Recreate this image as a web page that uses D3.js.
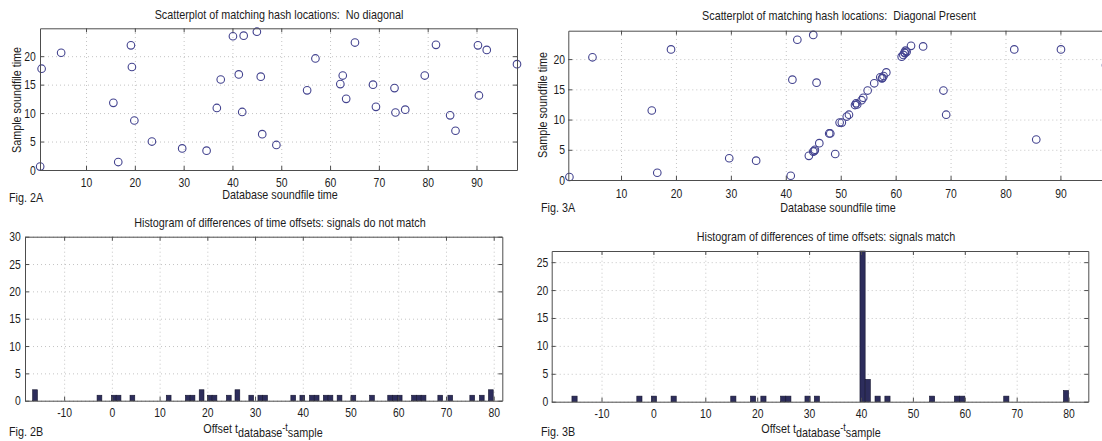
<!DOCTYPE html>
<html>
<head>
<meta charset="utf-8">
<script src="https://cdn.jsdelivr.net/npm/d3@7"></script>
<style>
  body { margin: 0; background: #fff; }
  svg text { font-family: "Liberation Sans", Arial, sans-serif; font-size: 13px; fill: #1c1c1c; white-space: pre; }
  .axis text { font-size: 12.5px; }
  .grid line { stroke: #c4c4c4; stroke-dasharray: 1,3; }
  .grid path { display: none; }
  .axis line, .axis path { stroke: #4d4d4d; }
</style>
</head>
<body>
<div id="container"></div>
<script>
// four panels: two scatterplots of matching hash locations and their offset histograms

// fig 2A - no diagonal (database time, sample time)
var noDiagX = [0.6, 0.9, 4.9, 15.6, 16.6, 19.2, 19.4, 19.9, 23.5, 29.7, 34.7, 36.8, 37.6, 40.1, 42.3,
               45.0, 41.3, 42.0, 45.8, 46.1, 49.0, 55.3, 57.0, 65.1, 62.6, 62.1, 63.3, 68.8, 69.4, 73.2,
               73.4, 75.4, 79.4, 81.7, 84.6, 85.7, 90.3, 90.5, 92.1, 98.3];
var noDiagY = [0.6, 17.8, 20.6, 11.8, 1.4, 21.9, 18.1, 8.7, 5.0, 3.8, 3.4, 10.9, 15.9, 23.5, 23.6,
               24.3, 16.8, 10.2, 16.4, 6.3, 4.4, 14.0, 19.6, 22.4, 16.6, 15.1, 12.5, 15.0, 11.1, 14.4,
               10.1, 10.6, 16.6, 22.0, 9.6, 6.9, 21.9, 13.1, 21.1, 18.6];

// fig 3A - diagonal present
var diagX = [0.6, 4.8, 15.6, 16.6, 19.1, 29.7, 34.6, 41.2, 42.1, 45.0, 45.6, 49.0, 65.0, 68.7, 69.2,
             81.6, 85.6, 90.1, 98.3,
             40.9, 44.2, 45.0, 45.3, 45.2, 46.1, 47.9, 48.1, 49.8, 50.2, 51.1, 51.5, 52.6, 52.8, 53.0,
             53.8, 54.1, 54.9, 56.1, 57.2, 57.5, 57.6, 57.8, 58.3, 61.1, 61.4, 61.6, 61.7, 61.8, 62.0, 62.8];
var diagY = [0.5, 20.3, 11.5, 1.2, 21.6, 3.6, 3.2, 16.6, 23.2, 24.0, 16.1, 4.3, 22.1, 14.8, 10.8,
             21.6, 6.7, 21.6, 19.0,
             0.7, 4.0, 4.7, 5.0, 4.8, 6.1, 7.7, 7.7, 9.5, 9.5, 10.5, 10.8, 12.4, 12.7, 12.5,
             13.2, 13.6, 14.8, 16.0, 17.0, 16.8, 16.9, 17.2, 17.8, 20.4, 20.7, 21.1, 21.0, 21.4, 21.2, 22.2];

// fig 2B - histogram of offsets, signals do not match (bin centre, count)
var noMatchOffset = [-16.1, -2.6, 0.4, 1.4, 4.3, 11.9, 15.9, 16.9, 18.8, 20.5, 21.5, 24.5, 26.3, 29.2,
                     31.1, 32.1, 38.0, 39.9, 41.9, 42.9, 44.8, 45.8, 47.7, 50.6, 54.5, 58.3, 59.3, 60.3,
                     63.3, 64.3, 65.3, 68.8, 70.9, 75.5, 77.5, 79.4];
var noMatchCount  = [2, 1, 1, 1, 1, 1, 1, 1, 2, 1, 1, 1, 2, 1,
                     1, 1, 1, 1, 1, 1, 1, 1, 1, 1, 1, 1, 1, 1,
                     1, 1, 1, 1, 1, 1, 1, 2];

// fig 3B - histogram of offsets, signals match
var matchOffset = [-15.2, -2.7, 0.1, 3.9, 15.4, 19.2, 21.2, 25.0, 26.0, 29.7, 31.5,
                   40.3, 41.3, 43.2, 45.1, 53.7, 58.5, 59.5, 68.0, 79.5];
var matchCount  = [1, 1, 1, 1, 1, 1, 1, 1, 1, 1, 1,
                   27, 4, 1, 1, 1, 1, 1, 1, 2];

// tick values
var scatterXTicks = [10, 20, 30, 40, 50, 60, 70, 80, 90];
var scatterYTicks = [0, 5, 10, 15, 20];
var histXTicks = [-10, 0, 10, 20, 30, 40, 50, 60, 70, 80];
var noMatchYTicks = [0, 5, 10, 15, 20, 25, 30];
var matchYTicks = [0, 5, 10, 15, 20, 25];

var markerColor = "#43438f";
var barColor = "#2d2d5c";
var squeeze = "scale(0.83,1)";   // the original uses a narrow helvetica

var svg = d3.select("#container").append("svg")
    .attr("width", 1102)
    .attr("height", 441);

var fmt = function(d) { return String(d); };

// dotted grid behind the data
function drawGrid(g, x, y, w, h, xt, yt) {
  g.append("g")
      .attr("class", "grid")
      .attr("transform", "translate(0," + h + ")")
      .call(d3.axisBottom(x).tickValues(xt).tickSize(-h).tickFormat(""));
  g.append("g")
      .attr("class", "grid")
      .call(d3.axisLeft(y).tickValues(yt).tickSize(-w).tickFormat(""));
}

// box with inward ticks on all four sides, labels bottom and left
function drawBox(g, x, y, w, h, xt, yt, xpad, ypad) {
  g.append("g")
      .attr("class", "axis")
      .attr("transform", "translate(0," + h + ")")
      .call(d3.axisBottom(x).tickValues(xt).tickSizeInner(-4).tickSizeOuter(0).tickPadding(xpad).tickFormat(fmt));
  g.append("g")
      .attr("class", "axis")
      .call(d3.axisTop(x).tickValues(xt).tickSizeInner(-4).tickSizeOuter(0).tickFormat(""));
  g.append("g")
      .attr("class", "axis")
      .call(d3.axisLeft(y).tickValues(yt).tickSizeInner(-4).tickSizeOuter(0).tickPadding(ypad).tickFormat(fmt));
  g.append("g")
      .attr("class", "axis")
      .attr("transform", "translate(" + w + ",0)")
      .call(d3.axisRight(y).tickValues(yt).tickSizeInner(-4).tickSizeOuter(0).tickFormat(""));
  g.selectAll(".axis").attr("font-size", null).attr("font-family", null);
  g.selectAll(".axis text").attr("transform", squeeze);
}

function addText(x, y, str, anchor) {
  return svg.append("text")
      .attr("transform", "translate(" + x + "," + y + ") " + squeeze)
      .attr("text-anchor", anchor || "middle")
      .text(str);
}

function yLabel(x, y, str) {
  svg.append("text")
      .attr("transform", "translate(" + x + "," + y + ") rotate(-90) " + squeeze)
      .attr("text-anchor", "middle")
      .text(str);
}

function offsetLabel(x, y) {
  var t = svg.append("text")
      .attr("transform", "translate(" + x + "," + y + ") " + squeeze)
      .attr("text-anchor", "middle");
  t.append("tspan").text("Offset t");
  t.append("tspan").attr("dy", 4).text("database");
  t.append("tspan").attr("dy", -6).style("font-size", "11px").text("-t");
  t.append("tspan").attr("dy", 6).text("sample");
}

function scatterPanel(p, xs, ys) {
  var g = svg.append("g").attr("transform", "translate(" + p.left + "," + p.top + ")");
  var x = d3.scaleLinear().domain(p.xDomain).range([0, p.width]);
  var y = d3.scaleLinear().domain(p.yDomain).range([p.height, 0]);

  drawGrid(g, x, y, p.width, p.height, scatterXTicks, scatterYTicks);

  g.selectAll("circle.pt")
      .data(d3.range(xs.length))
    .enter().append("circle")
      .attr("class", "pt")
      .attr("cx", function(i) { return x(xs[i]); })
      .attr("cy", function(i) { return y(ys[i]); })
      .attr("r", 3.8)
      .attr("fill", "none")
      .attr("stroke", markerColor)
      .attr("stroke-width", 1.1);

  drawBox(g, x, y, p.width, p.height, scatterXTicks, scatterYTicks, p.xpad, p.ypad);
}

function histPanel(p, offsets, counts, yt) {
  var g = svg.append("g").attr("transform", "translate(" + p.left + "," + p.top + ")");
  var x = d3.scaleLinear().domain(p.xDomain).range([0, p.width]);
  var y = d3.scaleLinear().domain(p.yDomain).range([p.height, 0]);

  drawGrid(g, x, y, p.width, p.height, histXTicks, yt);

  var bw = x(1) - x(0);
  g.selectAll("rect.bar")
      .data(d3.range(offsets.length))
    .enter().append("rect")
      .attr("class", "bar")
      .attr("x", function(i) { return x(offsets[i]) - bw / 2; })
      .attr("width", bw)
      .attr("y", function(i) { return y(counts[i]); })
      .attr("height", function(i) { return p.height - y(counts[i]); })
      .attr("fill", barColor)
      .attr("stroke", "#15152e")
      .attr("stroke-width", 0.6);

  drawBox(g, x, y, p.width, p.height, histXTicks, yt, p.xpad, p.ypad);
}

// Fig. 2A
scatterPanel({left: 40, top: 28.3, width: 477, height: 141.7, xDomain: [0.57, 98.3], yDomain: [0, 24.9], xpad: 8, ypad: 5},
             noDiagX, noDiagY);
addText(279, 19, "Scatterplot of matching hash locations:  No diagonal");
addText(280, 199, "Database soundfile time");
yLabel(21, 100, "Sample soundfile time");
addText(9, 202, "Fig. 2A", "start");

// Fig. 3A
scatterPanel({left: 568.3, top: 30.7, width: 537.7, height: 149.3, xDomain: [0.4, 98.3], yDomain: [0, 24.7], xpad: 9, ypad: 4},
             diagX, diagY);
addText(839, 20, "Scatterplot of matching hash locations:  Diagonal Present");
addText(838, 212, "Database soundfile time");
yLabel(547, 105, "Sample soundfile time");
addText(541, 212, "Fig. 3A", "start");

// Fig. 2B
histPanel({left: 25, top: 236.7, width: 477.3, height: 164, xDomain: [-18.2, 81.8], yDomain: [0, 30], xpad: 7, ypad: 5},
          noMatchOffset, noMatchCount, noMatchYTicks);
addText(280, 227, "Histogram of differences of time offsets: signals do not match");
offsetLabel(263, 433);
addText(9, 436, "Fig. 2B", "start");

// Fig. 3B
histPanel({left: 551.7, top: 251, width: 536.6, height: 150.7, xDomain: [-19.6, 83.8], yDomain: [0, 27], xpad: 7, ypad: 4},
          matchOffset, matchCount, matchYTicks);
addText(826, 241, "Histogram of differences of time offsets: signals match");
offsetLabel(821, 433);
addText(541, 436, "Fig. 3B", "start");
</script>
</body>
</html>
